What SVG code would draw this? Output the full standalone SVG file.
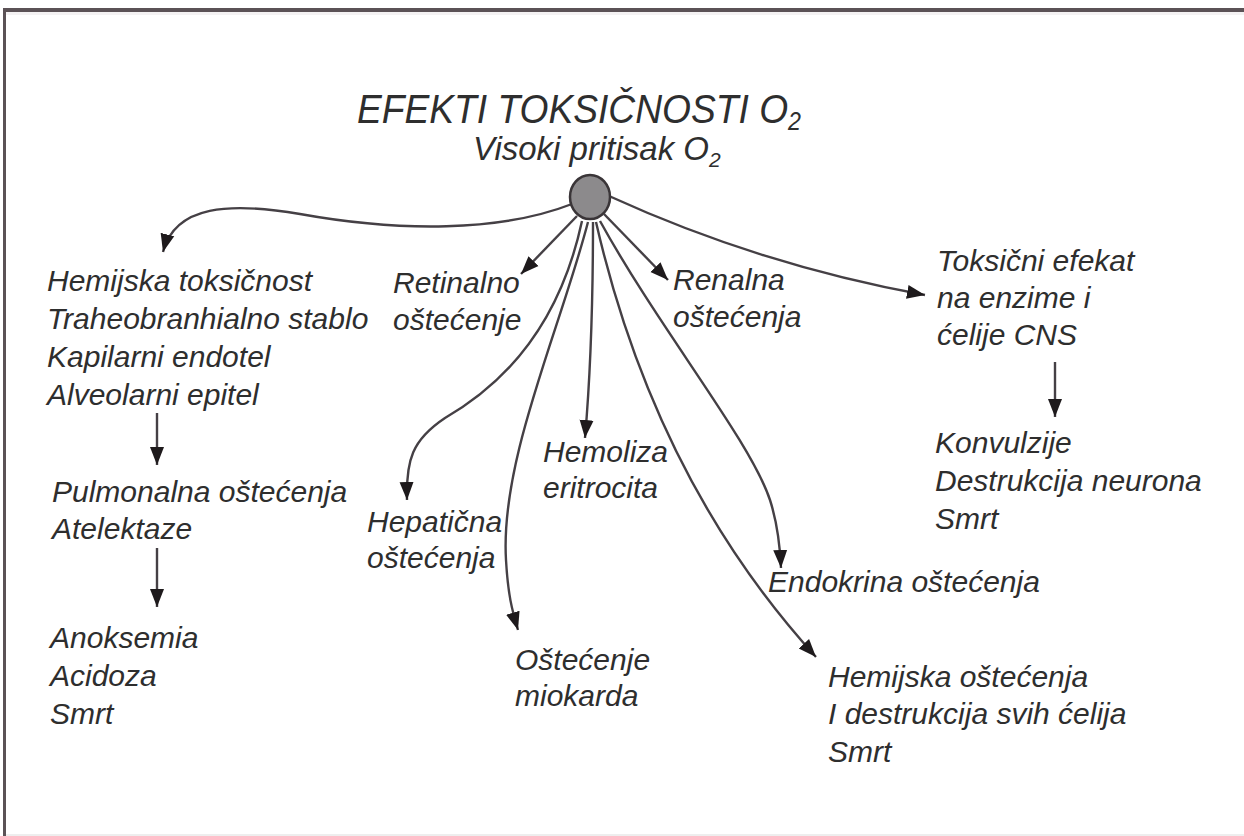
<svg xmlns="http://www.w3.org/2000/svg" width="1244" height="836" viewBox="0 0 1244 836">
<style>
.t{font-family:"Liberation Sans",Arial,sans-serif;font-style:italic;fill:#2e2e2e;font-size:30px}
.c{fill:none;stroke:#454045;stroke-width:2.4}
</style>
<defs>
<marker id="ah" markerUnits="userSpaceOnUse" markerWidth="20" markerHeight="16" viewBox="0 0 20 16" refX="18" refY="8" orient="auto">
<path d="M0,1 L18,8 L0,15 Z" fill="#1e1a1c"/>
</marker>
</defs>
<rect width="1244" height="836" fill="#fff"/>
<rect x="3" y="8" width="1241" height="4" fill="#5b5256"/>
<rect x="3" y="8" width="3" height="828" fill="#5b5256"/>
<rect x="6" y="12" width="1238" height="3" fill="#f4f2f3"/>
<rect x="6" y="834" width="1238" height="2" fill="#eeeeee"/>

<g id="connectors">
<path class="c" d="M572,204 C500,232 400,232 300,214 C230,202 175,205 163,252" marker-end="url(#ah)"/>
<path class="c" d="M577,216 L521,274" marker-end="url(#ah)"/>
<path class="c" d="M582,221 C565,300 525,372 445,418 C412,440 406,460 407,500" marker-end="url(#ah)"/>
<path class="c" d="M588,222 C560,330 500,460 506,560 C508,595 512,610 518,630" marker-end="url(#ah)"/>
<path class="c" d="M593,222 C593,300 590,380 585,438" marker-end="url(#ah)"/>
<path class="c" d="M604,214 L668,280" marker-end="url(#ah)"/>
<path class="c" d="M600,221 C660,330 750,440 770,500 C778,525 780,545 781,568" marker-end="url(#ah)"/>
<path class="c" d="M596,222 Q655,480 816,657" marker-end="url(#ah)"/>
<path class="c" d="M609,196 Q760,265 925,295" marker-end="url(#ah)"/>
<path class="c" d="M157,413 L157,465" marker-end="url(#ah)"/>
<path class="c" d="M157,548 L157,607" marker-end="url(#ah)"/>
<path class="c" d="M1055,362 L1055,417" marker-end="url(#ah)"/>
</g>

<g id="title">
<text class="t" x="357" y="123" style="font-size:40px" textLength="444" lengthAdjust="spacingAndGlyphs">EFEKTI TOKSIČNOSTI O<tspan dy="7" style="font-size:25px">2</tspan></text>
<text class="t" x="473" y="160" style="font-size:33px">Visoki pritisak O<tspan dy="7" style="font-size:21px">2</tspan></text>
</g>

<g id="source">
<ellipse cx="590" cy="197" rx="20" ry="22" fill="#8c8a8c" stroke="#3a3538" stroke-width="2.5"/>
</g>

<g id="n-hemijska-toksicnost">
<text class="t" x="47" y="291">Hemijska toksičnost</text>
<text class="t" x="47" y="329">Traheobranhialno stablo</text>
<text class="t" x="47" y="367">Kapilarni endotel</text>
<text class="t" x="47" y="405">Alveolarni epitel</text>
</g>
<g id="n-pulmonalna">
<text class="t" x="52" y="502">Pulmonalna oštećenja</text>
<text class="t" x="52" y="539">Atelektaze</text>
</g>
<g id="n-anoksemia">
<text class="t" x="50" y="648">Anoksemia</text>
<text class="t" x="50" y="686">Acidoza</text>
<text class="t" x="50" y="724">Smrt</text>
</g>
<g id="n-retinalno">
<text class="t" x="393" y="293">Retinalno</text>
<text class="t" x="393" y="330">oštećenje</text>
</g>
<g id="n-renalna">
<text class="t" x="673" y="290">Renalna</text>
<text class="t" x="673" y="327">oštećenja</text>
</g>
<g id="n-toksicni">
<text class="t" x="937" y="271">Toksični efekat</text>
<text class="t" x="937" y="308">na enzime i</text>
<text class="t" x="937" y="345">ćelije CNS</text>
</g>
<g id="n-konvulzije">
<text class="t" x="935" y="453">Konvulzije</text>
<text class="t" x="935" y="491">Destrukcija neurona</text>
<text class="t" x="935" y="529">Smrt</text>
</g>
<g id="n-hemoliza">
<text class="t" x="543" y="462">Hemoliza</text>
<text class="t" x="543" y="498">eritrocita</text>
</g>
<g id="n-hepaticna">
<text class="t" x="367" y="532">Hepatična</text>
<text class="t" x="367" y="568">oštećenja</text>
</g>
<g id="n-miokard">
<text class="t" x="515" y="670">Oštećenje</text>
<text class="t" x="515" y="706">miokarda</text>
</g>
<g id="n-endokrina">
<text class="t" x="768" y="592">Endokrina oštećenja</text>
</g>
<g id="n-hemijska-ostecenja">
<text class="t" x="828" y="687">Hemijska oštećenja</text>
<text class="t" x="828" y="724">I destrukcija svih ćelija</text>
<text class="t" x="828" y="762">Smrt</text>
</g>
</svg>
